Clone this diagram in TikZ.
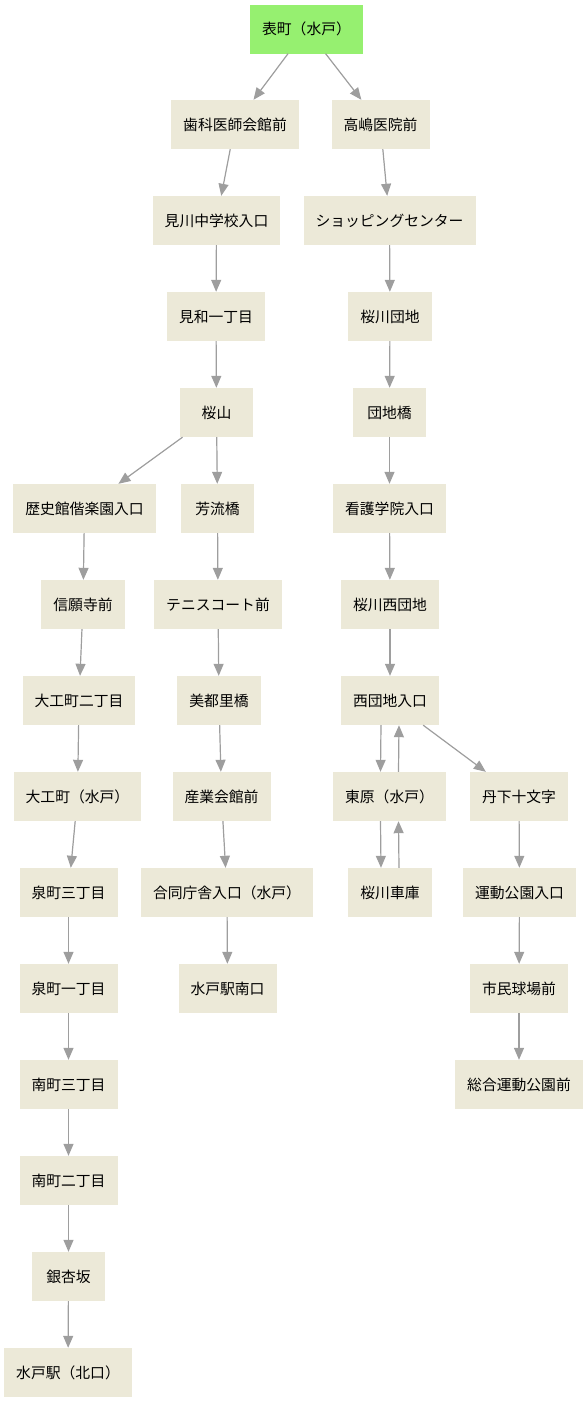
\documentclass[tikz,border=0pt]{standalone}
\usepackage{fontspec}
\setmainfont{Noto Sans CJK JP}
\usepackage{xcolor}
\usepackage{tikz}
\usetikzlibrary{arrows.meta}

\definecolor{stopfill}{RGB}{236,233,216}
\definecolor{startfill}{RGB}{150,240,112}
\definecolor{edgegray}{RGB}{158,158,158}

\begin{document}
\begin{tikzpicture}[x=1pt,y=-1pt,
  stopbox/.style={fill=stopfill,minimum width=73pt,minimum height=49pt,
              inner xsep=12pt,font=\fontsize{14.8}{17}\selectfont},
  arr/.style={-{Triangle[length=12pt,width=10pt]},draw=edgegray,fill=edgegray,line width=1.2pt}]

  \useasboundingbox (0,0) rectangle (588,1403);

  \node[stopbox,fill=startfill] (omote) at (306.5,29) {表町（水戸）};

  % left branch
  \node[stopbox] (shika)      at (235,124.5)  {歯科医師会館前};
  \node[stopbox] (migawa)     at (216.5,220.5) {見川中学校入口};
  \node[stopbox] (miwa)       at (216,316.5)  {見和一丁目};
  \node[stopbox] (sakurayama) at (216.5,412.5) {桜山};
  \node[stopbox] (rekishikan) at (84.5,508.5) {歴史館偕楽園入口};
  \node[stopbox] (shinganji)  at (83,604.5)   {信願寺前};
  \node[stopbox] (daiku2)     at (79,700.5)   {大工町二丁目};
  \node[stopbox] (daikumachi) at (77.5,796.5) {大工町（水戸）};
  \node[stopbox] (izumi3)     at (68.5,892.5) {泉町三丁目};
  \node[stopbox] (izumi1)     at (68.5,988.5) {泉町一丁目};
  \node[stopbox] (minami3)    at (68.5,1084.5) {南町三丁目};
  \node[stopbox] (minami2)    at (68.5,1180.5) {南町二丁目};
  \node[stopbox] (ginnan)     at (68.5,1276.5) {銀杏坂};
  \node[stopbox] (mitokita)   at (68,1372.5)  {水戸駅（北口）};

  \node[stopbox] (horyu)      at (217.5,508.5) {芳流橋};
  \node[stopbox] (tennis)     at (218,604.5)  {テニスコート前};
  \node[stopbox] (mitori)     at (219,700.5)  {美都里橋};
  \node[stopbox] (sangyo)     at (221.5,796.5) {産業会館前};
  \node[stopbox] (godo)       at (227,892.5)  {合同庁舎入口（水戸）};
  \node[stopbox] (minamiguchi) at (227.5,988.5) {水戸駅南口};

  % right branch
  \node[stopbox] (takashima)  at (380.5,124.5) {高嶋医院前};
  \node[stopbox] (shopping)   at (389.5,220.5) {ショッピングセンター};
  \node[stopbox] (danchi)     at (390,316.5)  {桜川団地};
  \node[stopbox] (danchibashi) at (389.5,412.5) {団地橋};
  \node[stopbox] (kango)      at (389.5,508.5) {看護学院入口};
  \node[stopbox] (nishidanchi) at (390,604.5) {桜川西団地};
  \node[stopbox] (nishiiri)   at (390,700.5)  {西団地入口};
  \node[stopbox] (higashihara) at (389.5,796.5) {東原（水戸）};
  \node[stopbox] (shako)      at (390,892.5)  {桜川車庫};

  \node[stopbox] (tange)      at (519,796.5)  {丹下十文字};
  \node[stopbox] (undo)       at (519.5,892.5) {運動公園入口};
  \node[stopbox] (shimin)     at (519,988.5)  {市民球場前};
  \node[stopbox] (sogo)       at (519,1084.5) {総合運動公園前};

  % connectors
  \draw[arr] (omote) -- (shika);
  \draw[arr] (omote) -- (takashima);

  \draw[arr] (shika) -- (migawa);
  \draw[arr] (migawa) -- (miwa);
  \draw[arr] (miwa) -- (sakurayama);
  \draw[arr] (sakurayama) -- (rekishikan);
  \draw[arr] (sakurayama) -- (horyu);
  \draw[arr] (rekishikan) -- (shinganji);
  \draw[arr] (shinganji) -- (daiku2);
  \draw[arr] (daiku2) -- (daikumachi);
  \draw[arr] (daikumachi) -- (izumi3);
  \draw[arr] (izumi3) -- (izumi1);
  \draw[arr] (izumi1) -- (minami3);
  \draw[arr] (minami3) -- (minami2);
  \draw[arr] (minami2) -- (ginnan);
  \draw[arr] (ginnan) -- (mitokita);

  \draw[arr] (horyu) -- (tennis);
  \draw[arr] (tennis) -- (mitori);
  \draw[arr] (mitori) -- (sangyo);
  \draw[arr] (sangyo) -- (godo);
  \draw[arr] (godo) -- (minamiguchi);

  \draw[arr] (takashima) -- (shopping);
  \draw[arr] (shopping) -- (danchi);
  \draw[arr] (danchi) -- (danchibashi);
  \draw[arr] (danchibashi) -- (kango);
  \draw[arr] (kango) -- (nishidanchi);
  \draw[arr] (nishidanchi) -- (nishiiri);
  \draw[arr] ([xshift=-9pt]nishiiri.south) -- ([xshift=-9pt]higashihara.north);
  \draw[arr] ([xshift=9pt]higashihara.north) -- ([xshift=9pt]nishiiri.south);
  \draw[arr] ([xshift=-9pt]higashihara.south) -- ([xshift=-9pt]shako.north);
  \draw[arr] ([xshift=9pt]shako.north) -- ([xshift=9pt]higashihara.south);
  \draw[arr] (nishiiri) -- (tange);
  \draw[arr] (tange) -- (undo);
  \draw[arr] (undo) -- (shimin);
  \draw[arr] (shimin) -- (sogo);

\end{tikzpicture}
\end{document}
